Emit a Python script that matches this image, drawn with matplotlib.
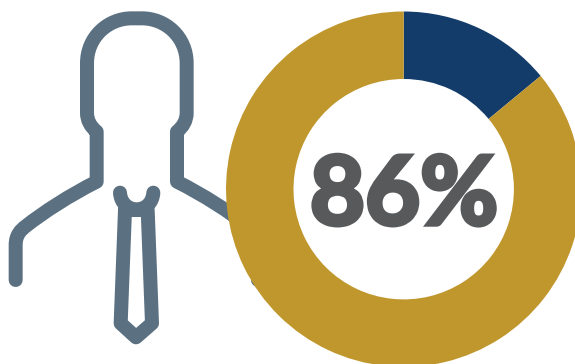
import matplotlib
matplotlib.use("Agg")
import matplotlib.pyplot as plt
import matplotlib.patheffects as pe
from matplotlib.path import Path
from matplotlib.patches import PathPatch

# Donut values
labels = ["Other", "Share"]
values = [14, 86]
value_label = "86%"
slice_colors = ["#143C6A", "#C0972D"]
ICON = "#5B7182"
TEXT = "#58595B"

W, H = 575, 364
fig = plt.figure(figsize=(W / 100, H / 100), dpi=100)
ax = fig.add_axes([0, 0, 1, 1])


def P(x, y):
    # outline points are given at 3x scale, measured from the top-left corner
    return (x / 3, H - y / 3)


def stroke(segments, lw_px=14):
    verts, codes = [], []
    for code, pts in segments:
        for p in pts:
            verts.append(P(*p))
            codes.append(code)
    patch = PathPatch(Path(verts, codes), fill=False, edgecolor=ICON,
                      linewidth=lw_px * 0.72, capstyle="round",
                      joinstyle="round", zorder=1)
    ax.add_patch(patch)


M, L, C3, C4 = Path.MOVETO, Path.LINETO, Path.CURVE3, Path.CURVE4

# Shoulders, neck and head of the figure icon
stroke([
    (M, [(47, 840)]),
    (L, [(47, 735)]),
    (C4, [(47, 705), (62, 690), (78, 678)]),
    (C4, [(130, 637), (210, 585), (290, 545)]),
    (L, [(290, 395)]),
    (C4, [(272, 380), (261, 362), (261, 338)]),
    (L, [(261, 190)]),
    (C4, [(261, 110), (325, 55), (395, 55)]),
    (L, [(426, 55)]),
    (C4, [(496, 55), (560, 110), (560, 190)]),
    (L, [(560, 338)]),
    (C4, [(560, 362), (549, 380), (531, 395)]),
    (L, [(531, 545)]),
    (C4, [(611, 585), (691, 637), (743, 678)]),
    (C4, [(759, 690), (774, 705), (774, 735)]),
    (L, [(774, 840)]),
])

# Collar
stroke([
    (M, [(360, 578)]),
    (C4, [(362, 610), (385, 628), (410, 628)]),
    (C4, [(435, 628), (458, 610), (460, 578)]),
])

# Tie
stroke([
    (M, [(375, 630)]),
    (L, [(362, 970)]),
    (L, [(408, 1012)]),
    (L, [(456, 970)]),
    (L, [(443, 630)]),
    (L, [(375, 630)]),
])

# Donut ring
wedges, _ = ax.pie(values, colors=slice_colors, startangle=90, counterclock=False,
                   center=(403.7, H - 189.2), radius=177.7,
                   wedgeprops=dict(width=67.5, linewidth=0))
for w in wedges:
    w.set_zorder(2)

# Centre figure, thickened with an outline to reach a black weight
ax.text(404, H - 224.5, value_label, ha="center", va="baseline", color=TEXT,
        fontsize=68.5, fontfamily="Lato", fontweight="bold", zorder=3,
        path_effects=[pe.withStroke(linewidth=3.2, foreground=TEXT,
                                    joinstyle="miter")])

ax.set_xlim(0, W)
ax.set_ylim(0, H)
ax.set_aspect("equal")
ax.axis("off")

fig.savefig("out.png", dpi=100, facecolor="white")
